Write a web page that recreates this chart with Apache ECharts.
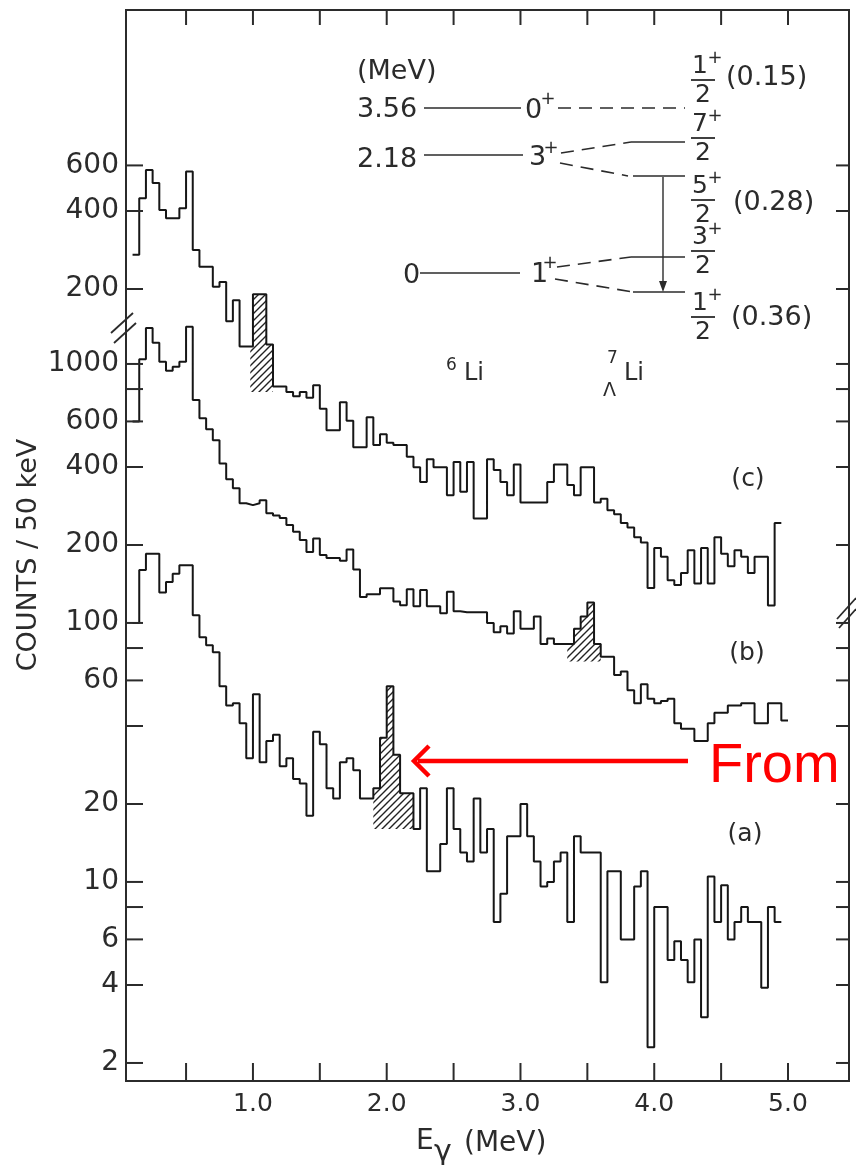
<!DOCTYPE html>
<html><head><meta charset="utf-8">
<script src="https://cdn.jsdelivr.net/npm/echarts@6/dist/echarts.min.js"></script>
<style>html,body{margin:0;padding:0;background:#fff}#c{width:856px;height:1165px}</style>
</head><body><div id="c"></div>
<script>
// ---------------- data ----------------
const BIN_START = 0.15;   // MeV, left edge of first 50 keV bin
const BIN_WIDTH = 0.05;   // MeV
const LEAD_X = 0.10;      // level before the first bin

// spectrum (a): counts / 50 keV (lower scale)
const countsA = [160,185,185,131,144,155,167,167,107,88,
  82,77,57,48,49,41,30,53,29,35,
  37,28,30,25,24,18,38,34,23,21,
  29,30,27,21,21,23,36,57,31,22,
  22,16,23,11,11,14,23,16,13,12,
  21,13,16,7,9,15,15,20,15,12,
  9.6,10,12,13,7,15,13,13,13,4.1,
  11,11,6,6,9.6,11,2.3,8,8,5,
  5.9,5,4.1,6,3,10.5,7,9.7,6,7,
  8,7,7,3.9,8,7];
const leadA = 100;

// spectrum (b): counts / 50 keV (lower scale)
const countsB = [1042,1377,1208,1020,942,976,1020,1393,726,617,
  560,508,413,359,331,290,285,290,298,265,
  260,254,239,225,209,188,212,183,178,178,
  174,192,161,126,129,129,136,136,121,117,
  135,116,134,116,116,109,132,111,110,110,
  110,110,100,92,97,91,111,95,95,106,
  83,87,83,83,83,95,106,120,83,74,
  74,63,65,55,49,58,51,49,50,51,
  41,39,39,35,35,41,45,45,48,48,
  49,49,41,41,49,49,42];
const leadB = 600;

// spectrum (c): counts / 50 keV (upper scale)
const countsC = [448,576,513,404,375,375,410,568,283,244,
  244,204,213,150,181,120,120,191,191,122,
  84,84,80,77,80,76,85,69,57,57,
  73,62,49,49,64,50,55,51,50,50,
  45,41,36,44,41,41,32,43,33,43,
  26,26,44,40,36,32,42,30,30,30,
  30,36,42,42,35,32,41,41,30,31,
  28,27,25,24,22,21,14,20,18.5,15,
  14.4,16,19.6,14.6,20,14.6,22,19,17,19.6,
  18.5,16,18.5,18.5,12,25];
const leadC = 271;

// hatched peak regions: [x from, x to, base counts]
const hatchA = [1.90, 2.20, 16];
const hatchB = [3.35, 3.60, 71];
const hatchC = [0.98, 1.15, 80];

// axis ticks
const ticksLower  = [2,4,6,8,10,20,40,60,80,100,200,400,600,800,1000];
const labelsLower = [2,4,6,10,20,60,100,200,400,600,1000];
const ticksUpper  = [200,400,600];
const labelsUpper = [200,400,600];
const xTicks  = [0.5,1.0,1.5,2.0,2.5,3.0,3.5,4.0,4.5,5.0];
const xLabels = [1.0,2.0,3.0,4.0,5.0];

// axis ranges
const XMIN = 0.051, XMAX = 5.456;
const Y0MIN = 1.7037, Y0MAX = 23264;   // lower scale, spectra (a),(b)
const Y1MIN = 0.17504, Y1MAX = 2389;   // upper scale, spectrum (c)

// ---------------- helpers ----------------
function steps(lead, counts){
  const pts = [[LEAD_X, lead]];
  counts.forEach((v,i)=>pts.push([+(BIN_START+i*BIN_WIDTH).toFixed(3), v]));
  pts.push([+(BIN_START+counts.length*BIN_WIDTH).toFixed(3), counts[counts.length-1]]);
  return pts;
}
function hatchCanvas(){
  const c=document.createElement('canvas'); c.width=7; c.height=7;
  const g=c.getContext('2d'); g.strokeStyle='#222'; g.lineWidth=1.4;
  g.beginPath(); g.moveTo(0,7); g.lineTo(7,0); g.moveTo(-1,1); g.lineTo(1,-1); g.moveTo(6,8); g.lineTo(8,6); g.stroke();
  return c;
}
const HATCH = {image: hatchCanvas(), repeat:'repeat'};
function hatchSeries(region, counts, yIdx){
  return {type:'custom', xAxisIndex:0, yAxisIndex:yIdx, z:1, silent:true,
    data:[region],
    renderItem(params, api){
      const x0=api.value(0), x1=api.value(1), base=api.value(2);
      const pts=[api.coord([x0, base])];
      counts.forEach((v,i)=>{
        const a=BIN_START+i*BIN_WIDTH, b=a+BIN_WIDTH;
        if (b<=x0+1e-9 || a>=x1-1e-9) return;
        pts.push(api.coord([Math.max(a,x0), v]));
        pts.push(api.coord([Math.min(b,x1), v]));
      });
      pts.push(api.coord([x1, base]));
      return {type:'polygon', shape:{points:pts}, style:{fill:HATCH, stroke:null}};
    }};
}
const INK = '#2b2b2b';
const YFONT = '28px "DejaVu Sans"';
const XFONT = '25px "DejaVu Sans"';
function yTickSeries(ticks, labels, yIdx){
  return {type:'custom', xAxisIndex:0, yAxisIndex:yIdx, z:5, silent:true,
    data: ticks.map(v=>[XMIN, v]),
    renderItem(params, api){
      const v=api.value(1);
      const p=api.coord([XMIN, v]), q=api.coord([XMAX, v]);
      const ch=[
        {type:'line', shape:{x1:p[0], y1:p[1], x2:p[0]+17, y2:p[1]}, style:{stroke:INK, lineWidth:2}},
        {type:'line', shape:{x1:q[0]-13, y1:q[1], x2:q[0], y2:q[1]}, style:{stroke:INK, lineWidth:2}}
      ];
      if (labels.indexOf(v)>=0) ch.push({type:'text', x:p[0]-7, y:p[1],
        style:{text:String(v), font:YFONT, fill:INK, align:'right', verticalAlign:'middle', textAlign:'right', textVerticalAlign:'middle'}});
      return {type:'group', children:ch};
    }};
}
const xTickSeries = {type:'custom', xAxisIndex:0, yAxisIndex:0, z:5, silent:true,
  data: xTicks.map(v=>[v, Y0MIN]),
  renderItem(params, api){
    const v=api.value(0);
    const b=api.coord([v, Y0MIN]), t=api.coord([v, Y0MAX]);
    const ch=[
      {type:'line', shape:{x1:b[0], y1:b[1], x2:b[0], y2:b[1]-18}, style:{stroke:INK, lineWidth:2}},
      {type:'line', shape:{x1:t[0], y1:t[1], x2:t[0], y2:t[1]+15}, style:{stroke:INK, lineWidth:2}}
    ];
    if (xLabels.indexOf(v)>=0) ch.push({type:'text', x:b[0], y:b[1]+23,
      style:{text:v.toFixed(1), font:XFONT, fill:INK, align:'center', verticalAlign:'middle', textAlign:'center', textVerticalAlign:'middle'}});
    return {type:'group', children:ch};
  }};

function lineSeries(name, data, yIdx){
  return {name, type:'line', step:'end', xAxisIndex:0, yAxisIndex:yIdx, data,
    symbol:'none', z:3, silent:true, lineStyle:{color:'#161616', width:2}};
}

// ---------------- annotations (inset level scheme etc.) ----------------
function T(text, x, y, size, align, extra){
  return Object.assign({type:'text', x, y, silent:true, z:10,
    style:{text, font:(size||27)+'px "DejaVu Sans"', fill:INK, align:align||'left', verticalAlign:'middle',
      textAlign:align||'left', textVerticalAlign:'middle'}}, extra||{});
}
function L(x1,y1,x2,y2,dash,w,col){
  return {type:'line', silent:true, z:10, shape:{x1,y1,x2,y2},
    style:{stroke:col||INK, lineWidth:w||1.6, lineDash:dash?[13,8]:null}};
}
function frac(num, yBar){
  const xc = 703;
  return [T(num, xc-3, yBar-14, 25, 'center'), T('+', xc+12, yBar-22, 18, 'center'),
          L(xc-12, yBar, xc+12, yBar, false, 1.8), T('2', xc, yBar+15, 25, 'center')];
}
const els = [
  T('(MeV)', 357, 72), T('3.56', 357, 110), T('2.18', 357, 160), T('0', 403, 276),
  L(424,108,521,108), L(424,155,523,155), L(420,273,520,273),
  T('0', 525, 111), T('+', 548, 99, 18, 'center'),
  T('3', 529, 158), T('+', 551, 148, 18, 'center'),
  T('1', 531, 275), T('+', 550, 263, 18, 'center'),
  L(558,108,685,108,true),
  L(561,153,631,142,true), L(631,142,685,142),
  L(560,163,628,176,true), L(633,176,685,176),
  L(557,267,631,257,true), L(631,257,685,257),
  L(555,279,633,292,true), L(633,292,685,292),
  L(663,177,663,286,false,1.4),
  {type:'polygon', silent:true, z:10, shape:{points:[[659,281],[667,281],[663,292]]}, style:{fill:INK}},
  ...frac('1', 80), ...frac('7', 138), ...frac('5', 200), ...frac('3', 251), ...frac('1', 317),
  T('(0.15)', 726, 78), T('(0.28)', 733, 203), T('(0.36)', 731, 318),
  T('6', 446, 366, 17), T('Li', 464, 374, 24),
  T('7', 607, 359, 17), T('\u039b', 603, 391, 19), T('Li', 624, 374, 24),
  T('(c)', 748, 479, 25, 'center'), T('(b)', 747, 653, 25, 'center'), T('(a)', 745, 834, 25, 'center'),
  // axis breaks
  L(111,333,133,313,false,1.8), L(114,343,136,323,false,1.8),
  L(837,619,856,598,false,1.8), L(839,628,856,609,false,1.8),
  // axis titles
  T('COUNTS / 50 keV', 29, 555, 27, 'center', {rotation: Math.PI/2}),
  T('E', 416, 1142, 28), T('\u03b3', 434, 1153, 30), T('(MeV)', 464, 1144, 28),
  // red annotation
  L(688,761,418,761,false,4.5,'#ff0000'),
  {type:'polyline', silent:true, z:11, shape:{points:[[429,746],[414,761],[429,776]]},
    style:{stroke:'#ff0000', lineWidth:4.5, fill:null}},
  {type:'text', x:709, y:767, silent:true, z:11,
    style:{text:'From', font:'56px "Liberation Sans"', fill:'#ff0000', align:'left', verticalAlign:'middle', textAlign:'left', textVerticalAlign:'middle'}}
];

// ---------------- chart ----------------
const chart = echarts.init(document.getElementById('c'), null, {renderer:'canvas'});
chart.setOption({
  animation:false,
  backgroundColor:'#ffffff',
  grid:{left:126, right:7, top:10, bottom:84, show:true, borderColor:INK, borderWidth:2, backgroundColor:'transparent'},
  xAxis:[{type:'value', min:XMIN, max:XMAX, show:false}],
  yAxis:[
    {type:'log', logBase:10, min:Y0MIN, max:Y0MAX, show:false},
    {type:'log', logBase:10, min:Y1MIN, max:Y1MAX, show:false}
  ],
  series:[
    hatchSeries(hatchA, countsA, 0),
    hatchSeries(hatchB, countsB, 0),
    hatchSeries(hatchC, countsC, 1),
    lineSeries('(a)', steps(leadA, countsA), 0),
    lineSeries('(b)', steps(leadB, countsB), 0),
    lineSeries('(c)', steps(leadC, countsC), 1),
    yTickSeries(ticksLower, labelsLower, 0),
    yTickSeries(ticksUpper, labelsUpper, 1),
    xTickSeries
  ],
  graphic:{elements:els}
});
</script>
</body></html>
